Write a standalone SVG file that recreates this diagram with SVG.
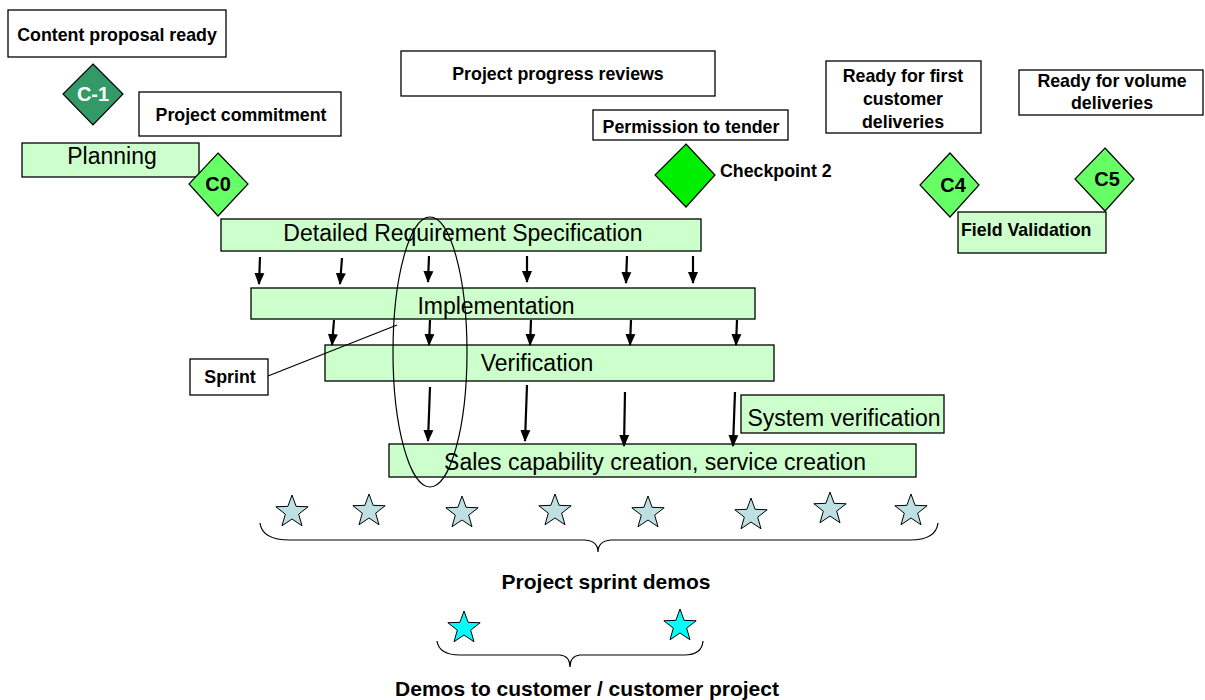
<svg xmlns="http://www.w3.org/2000/svg" xmlns:xlink="http://www.w3.org/1999/xlink" width="1205" height="700" viewBox="0 0 1205 700">
<style>
.box{fill:#ffffff;stroke:#000;stroke-width:1.3}
.phase{fill:#ccffcc;stroke:#000;stroke-width:1.3}
.lbl{font-family:"Liberation Sans",Arial,sans-serif;font-weight:bold;font-size:17.8px;fill:#000}
.cap{font-family:"Liberation Sans",Arial,sans-serif;font-weight:bold;font-size:21px;fill:#000}
.big{font-family:"Liberation Sans",Arial,sans-serif;font-size:23px;fill:#000}
.dtext{font-family:"Liberation Sans",Arial,sans-serif;font-weight:bold;font-size:20px}
.arr{stroke:#000;stroke-width:2.2;fill:none}
.thin{stroke:#000;stroke-width:1.2;fill:none}
.star1{fill:#bfe0e3;stroke:#000;stroke-width:1}
.star2{fill:#00ffff;stroke:#000;stroke-width:1}
</style>
<defs>
<marker id="ah" markerUnits="userSpaceOnUse" markerWidth="12" markerHeight="12" viewBox="0 0 12 12" refX="11" refY="6" orient="auto">
<path d="M0,1 L12,6 L0,11 Z" fill="#000"/>
</marker>
<polygon id="star" points="0,-17 4.11,-5.66 16.17,-5.25 6.66,2.16 10,13.75 0,7 -10,13.75 -6.66,2.16 -16.17,-5.25 -4.11,-5.66"/>
</defs>
<rect width="1205" height="700" fill="#fff"/>

<g id="content-proposal-ready"><rect class="box" x="8" y="10" width="218" height="47"/><text class="lbl" x="117" y="41" text-anchor="middle">Content proposal ready</text></g>
<g id="c-1"><polygon points="93,64 123,94 93,125 63,94" fill="#339966" stroke="#000" stroke-width="1.2"/><text class="dtext" x="93" y="101" text-anchor="middle" fill="#fff">C-1</text></g>
<g id="project-commitment"><rect class="box" x="139" y="92" width="202" height="44"/><text class="lbl" x="241" y="121" text-anchor="middle">Project commitment</text></g>
<g id="planning"><rect class="phase" x="22" y="143" width="177" height="34"/><text class="big" x="112" y="164" text-anchor="middle">Planning</text></g>
<g id="c0"><polygon points="218,153 248,184 218,216 189,184" fill="#66ff66" stroke="#000" stroke-width="1.2"/><text class="dtext" x="218" y="191" text-anchor="middle" fill="#000">C0</text></g>
<g id="project-progress-reviews"><rect class="box" x="401" y="51" width="314" height="45"/><text class="lbl" x="558" y="80" text-anchor="middle">Project progress reviews</text></g>
<g id="permission-to-tender"><rect class="box" x="593" y="110" width="195" height="30"/><text class="lbl" x="691" y="133" text-anchor="middle">Permission to tender</text></g>
<g id="checkpoint-2"><polygon points="686,144 715,175 686,207 655,175" fill="#00ee00" stroke="#000" stroke-width="1.2"/><text class="lbl" x="720" y="177">Checkpoint 2</text></g>
<g id="ready-first"><rect class="box" x="826" y="61" width="155" height="72"/><text class="lbl" x="903" y="82" text-anchor="middle">Ready for first</text><text class="lbl" x="903" y="105" text-anchor="middle">customer</text><text class="lbl" x="903" y="128" text-anchor="middle">deliveries</text></g>
<g id="ready-volume"><rect class="box" x="1019" y="70" width="184" height="45"/><text class="lbl" x="1112" y="87" text-anchor="middle">Ready for volume</text><text class="lbl" x="1112" y="109" text-anchor="middle">deliveries</text></g>
<g id="field-validation"><rect class="phase" x="958" y="212" width="148" height="41"/><text class="lbl" x="961" y="236">Field Validation</text></g>
<g id="c4"><polygon points="950,153 979,185 950,217 920,185" fill="#66ff66" stroke="#000" stroke-width="1.2"/><text class="dtext" x="953" y="192" text-anchor="middle" fill="#000">C4</text></g>
<g id="c5"><polygon points="1105,148 1134,179 1105,211 1075,179" fill="#66ff66" stroke="#000" stroke-width="1.2"/><text class="dtext" x="1107" y="186" text-anchor="middle" fill="#000">C5</text></g>

<g id="detailed-requirement-specification"><rect class="phase" x="221" y="219" width="480" height="32"/><text class="big" x="463" y="241" text-anchor="middle">Detailed Requirement Specification</text></g>
<g id="implementation"><rect class="phase" x="251" y="288" width="504" height="31"/><text class="big" x="496" y="314" text-anchor="middle">Implementation</text></g>
<g id="verification"><rect class="phase" x="325" y="345" width="449" height="36"/><text class="big" x="537" y="371" text-anchor="middle">Verification</text></g>
<g id="system-verification"><rect class="phase" x="741" y="395" width="203" height="38"/><text class="big" x="844" y="426" text-anchor="middle">System verification</text></g>
<g id="sales-capability"><rect class="phase" x="389" y="444" width="527" height="33"/><text class="big" x="655" y="470" text-anchor="middle">Sales capability creation, service creation</text></g>
<g id="sprint"><rect class="box" x="190" y="359" width="78" height="36"/><text class="lbl" x="230" y="383" text-anchor="middle">Sprint</text></g>

<g id="connectors">
<line class="arr" x1="260" y1="257" x2="259" y2="284" marker-end="url(#ah)"/>
<line class="arr" x1="342" y1="258" x2="340" y2="284" marker-end="url(#ah)"/>
<line class="arr" x1="429" y1="256" x2="428" y2="282" marker-end="url(#ah)"/>
<line class="arr" x1="527" y1="256" x2="527" y2="282" marker-end="url(#ah)"/>
<line class="arr" x1="627" y1="256" x2="626" y2="283" marker-end="url(#ah)"/>
<line class="arr" x1="693" y1="256" x2="693" y2="283" marker-end="url(#ah)"/>
<line class="arr" x1="334" y1="320" x2="332" y2="345" marker-end="url(#ah)"/>
<line class="arr" x1="430" y1="320" x2="429" y2="345" marker-end="url(#ah)"/>
<line class="arr" x1="531" y1="320" x2="530" y2="345" marker-end="url(#ah)"/>
<line class="arr" x1="631" y1="320" x2="630" y2="345" marker-end="url(#ah)"/>
<line class="arr" x1="737" y1="320" x2="736" y2="345" marker-end="url(#ah)"/>
<line class="arr" x1="430" y1="387" x2="428" y2="441" marker-end="url(#ah)"/>
<line class="arr" x1="527" y1="385" x2="525" y2="441" marker-end="url(#ah)"/>
<line class="arr" x1="625" y1="392" x2="624" y2="446" marker-end="url(#ah)"/>
<line class="arr" x1="735" y1="392" x2="733" y2="446" marker-end="url(#ah)"/>
<line class="thin" x1="268" y1="376" x2="397" y2="325"/>
<ellipse class="thin" cx="430" cy="352" rx="37" ry="135"/>
<path class="thin" d="M260,523 Q262,540 290,540 L585,540 Q598,541 598,552 Q598,541 611,540 L910,540 Q936,540 938,523"/>
<path class="thin" d="M437,641 Q439,655 460,655 L560,655 Q570,656 570,667 Q570,656 580,655 L684,655 Q702,655 703,641"/>
</g>

<g id="sprint-demos">
<use xlink:href="#star" class="star1" x="292" y="512"/>
<use xlink:href="#star" class="star1" x="369" y="511"/>
<use xlink:href="#star" class="star1" x="462" y="513"/>
<use xlink:href="#star" class="star1" x="555" y="511"/>
<use xlink:href="#star" class="star1" x="648" y="513"/>
<use xlink:href="#star" class="star1" x="751" y="515"/>
<use xlink:href="#star" class="star1" x="830" y="509"/>
<use xlink:href="#star" class="star1" x="911" y="511"/>
<text class="cap" x="606" y="589" text-anchor="middle">Project sprint demos</text>
</g>
<g id="customer-demos">
<use xlink:href="#star" class="star2" x="464" y="628"/>
<use xlink:href="#star" class="star2" x="680" y="626"/>
<text class="cap" x="587" y="696" text-anchor="middle">Demos to customer / customer project</text>
</g>
</svg>
